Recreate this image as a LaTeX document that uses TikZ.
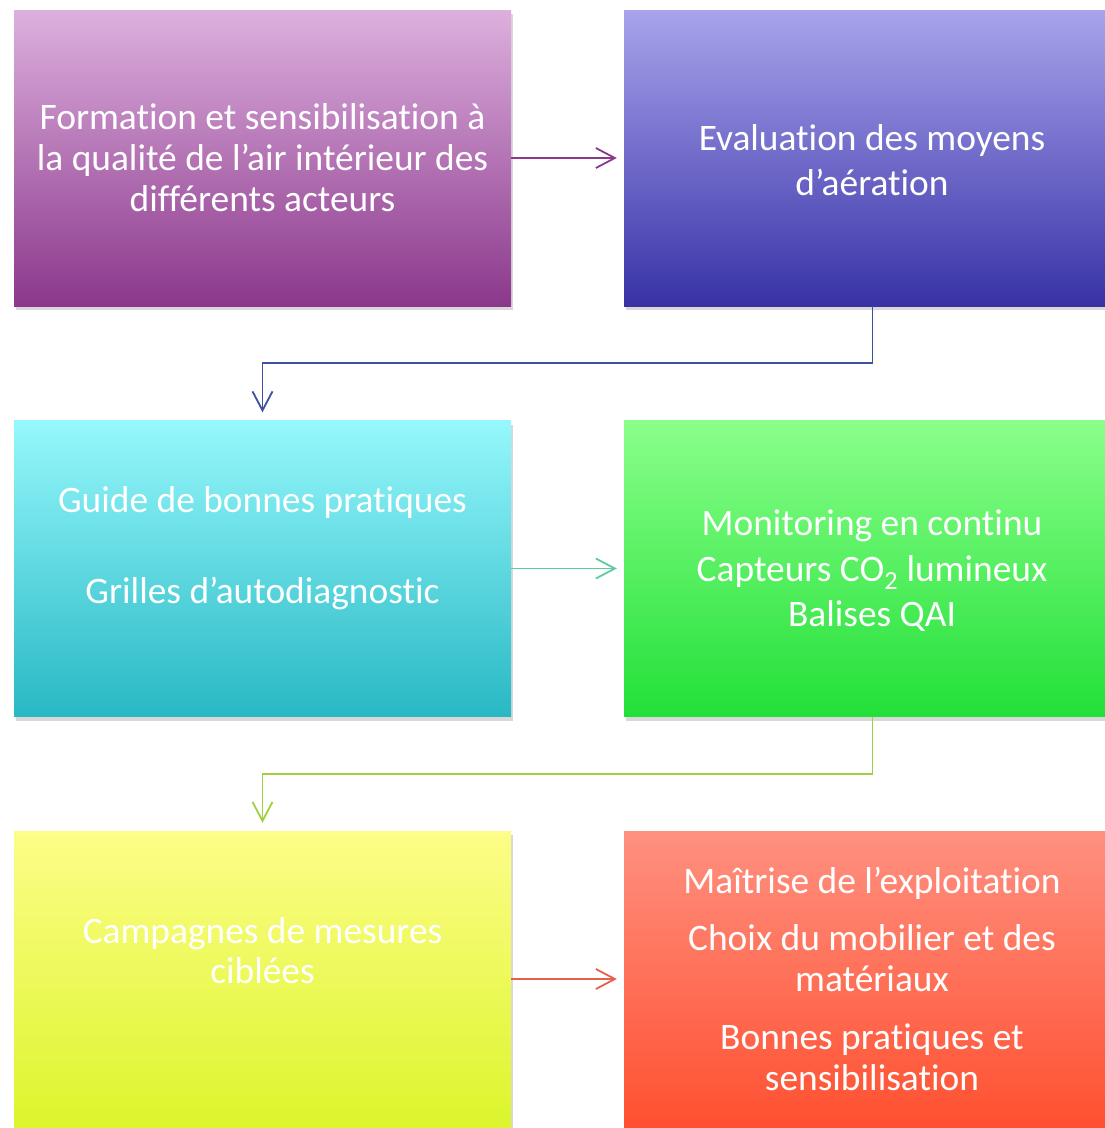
\documentclass[tikz,border=0pt]{standalone}
\usepackage{fontspec}
\setmainfont{Carlito}[Ligatures={NoCommon,NoContextual,NoRare},Contextuals=NoAlternate]
\usetikzlibrary{arrows.meta,shadows}
\definecolor{pAt}{RGB}{221,176,222}
\definecolor{pAb}{RGB}{139,56,139}
\definecolor{pBt}{RGB}{168,164,236}
\definecolor{pBb}{RGB}{56,50,166}
\definecolor{pCt}{RGB}{150,248,252}
\definecolor{pCb}{RGB}{40,184,196}
\definecolor{pDt}{RGB}{138,255,138}
\definecolor{pDb}{RGB}{34,224,56}
\definecolor{pEt}{RGB}{253,253,136}
\definecolor{pEb}{RGB}{220,245,44}
\definecolor{pFt}{RGB}{255,144,128}
\definecolor{pFb}{RGB}{255,80,48}
\definecolor{aA}{RGB}{139,58,139}
\definecolor{aB}{RGB}{64,80,160}
\definecolor{aC}{RGB}{94,203,160}
\definecolor{aD}{RGB}{160,208,64}
\definecolor{aE}{RGB}{232,96,76}
\begin{document}
\begin{tikzpicture}[x=1pt,y=1pt,
  box/.style={rectangle, minimum width=497pt, minimum height=296pt, inner sep=0pt,
    drop shadow={shadow xshift=2pt, shadow yshift=-4pt, opacity=0.3}},
  txt/.style={text=white, align=center, inner sep=0pt},
  conn/.style={line width=1.8pt, -{Straight Barb[length=19pt,width=20pt,line width=1.8pt]}}
]
\fill[white] (0,0) rectangle (1105,-1128);
\useasboundingbox (0,0) rectangle (1105,-1128);

\node[box, top color=pAt, bottom color=pAb] (b1) at (262.5,-158) {};
\node[box, top color=pBt, bottom color=pBb] (b2) at (872.5,-158) {};
\node[box, top color=pCt, bottom color=pCb] (b3) at (262.5,-568.5) {};
\node[box, top color=pDt, bottom color=pDb] (b4) at (872.5,-568.5) {};
\node[box, top color=pEt, bottom color=pEb] (b5) at (262.5,-979) {};
\node[box, top color=pFt, bottom color=pFb] (b6) at (872.5,-979) {};

\node[txt, font=\fontsize{37.4}{41}\selectfont] (t1) at (262.5,-158)
  {Formation et sensibilisation à\\la qualité de l’air intérieur des\\différents acteurs};
\node[txt, font=\fontsize{37.4}{45}\selectfont] (t2) at (872,-160)
  {Evaluation des moyens\\d’aération};
\node[txt, font=\fontsize{37.4}{41}\selectfont] (t3) at (262.5,-548.5)
  {Guide de bonnes pratiques\\[50pt]Grilles d’autodiagnostic};
\node[txt, font=\fontsize{37.4}{45.5}\selectfont] (t4) at (872,-571)
  {Monitoring en continu\\Capteurs CO\textsubscript{2} lumineux\\Balises QAI};
\node[txt, font=\fontsize{37.4}{40}\selectfont] (t5) at (262.5,-951)
  {Campagnes de mesures\\ciblées};
\node[txt, font=\fontsize{37.4}{41}\selectfont] (t6) at (872,-979)
  {Maîtrise de l’exploitation\\[16pt]Choix du mobilier et des\\matériaux\\[17pt]Bonnes pratiques et\\sensibilisation};

\draw[conn, aA] (b1.east) -- ([xshift=-7pt]b2.west);
\draw[conn, aB] (b2.south) -- ++(0,-57) -| ([yshift=8pt]b3.north);
\draw[conn, aC] (b3.east) -- ([xshift=-7pt]b4.west);
\draw[conn, aD] (b4.south) -- ++(0,-57) -| ([yshift=8pt]b5.north);
\draw[conn, aE] (b5.east) -- ([xshift=-7pt]b6.west);
\end{tikzpicture}
\end{document}
